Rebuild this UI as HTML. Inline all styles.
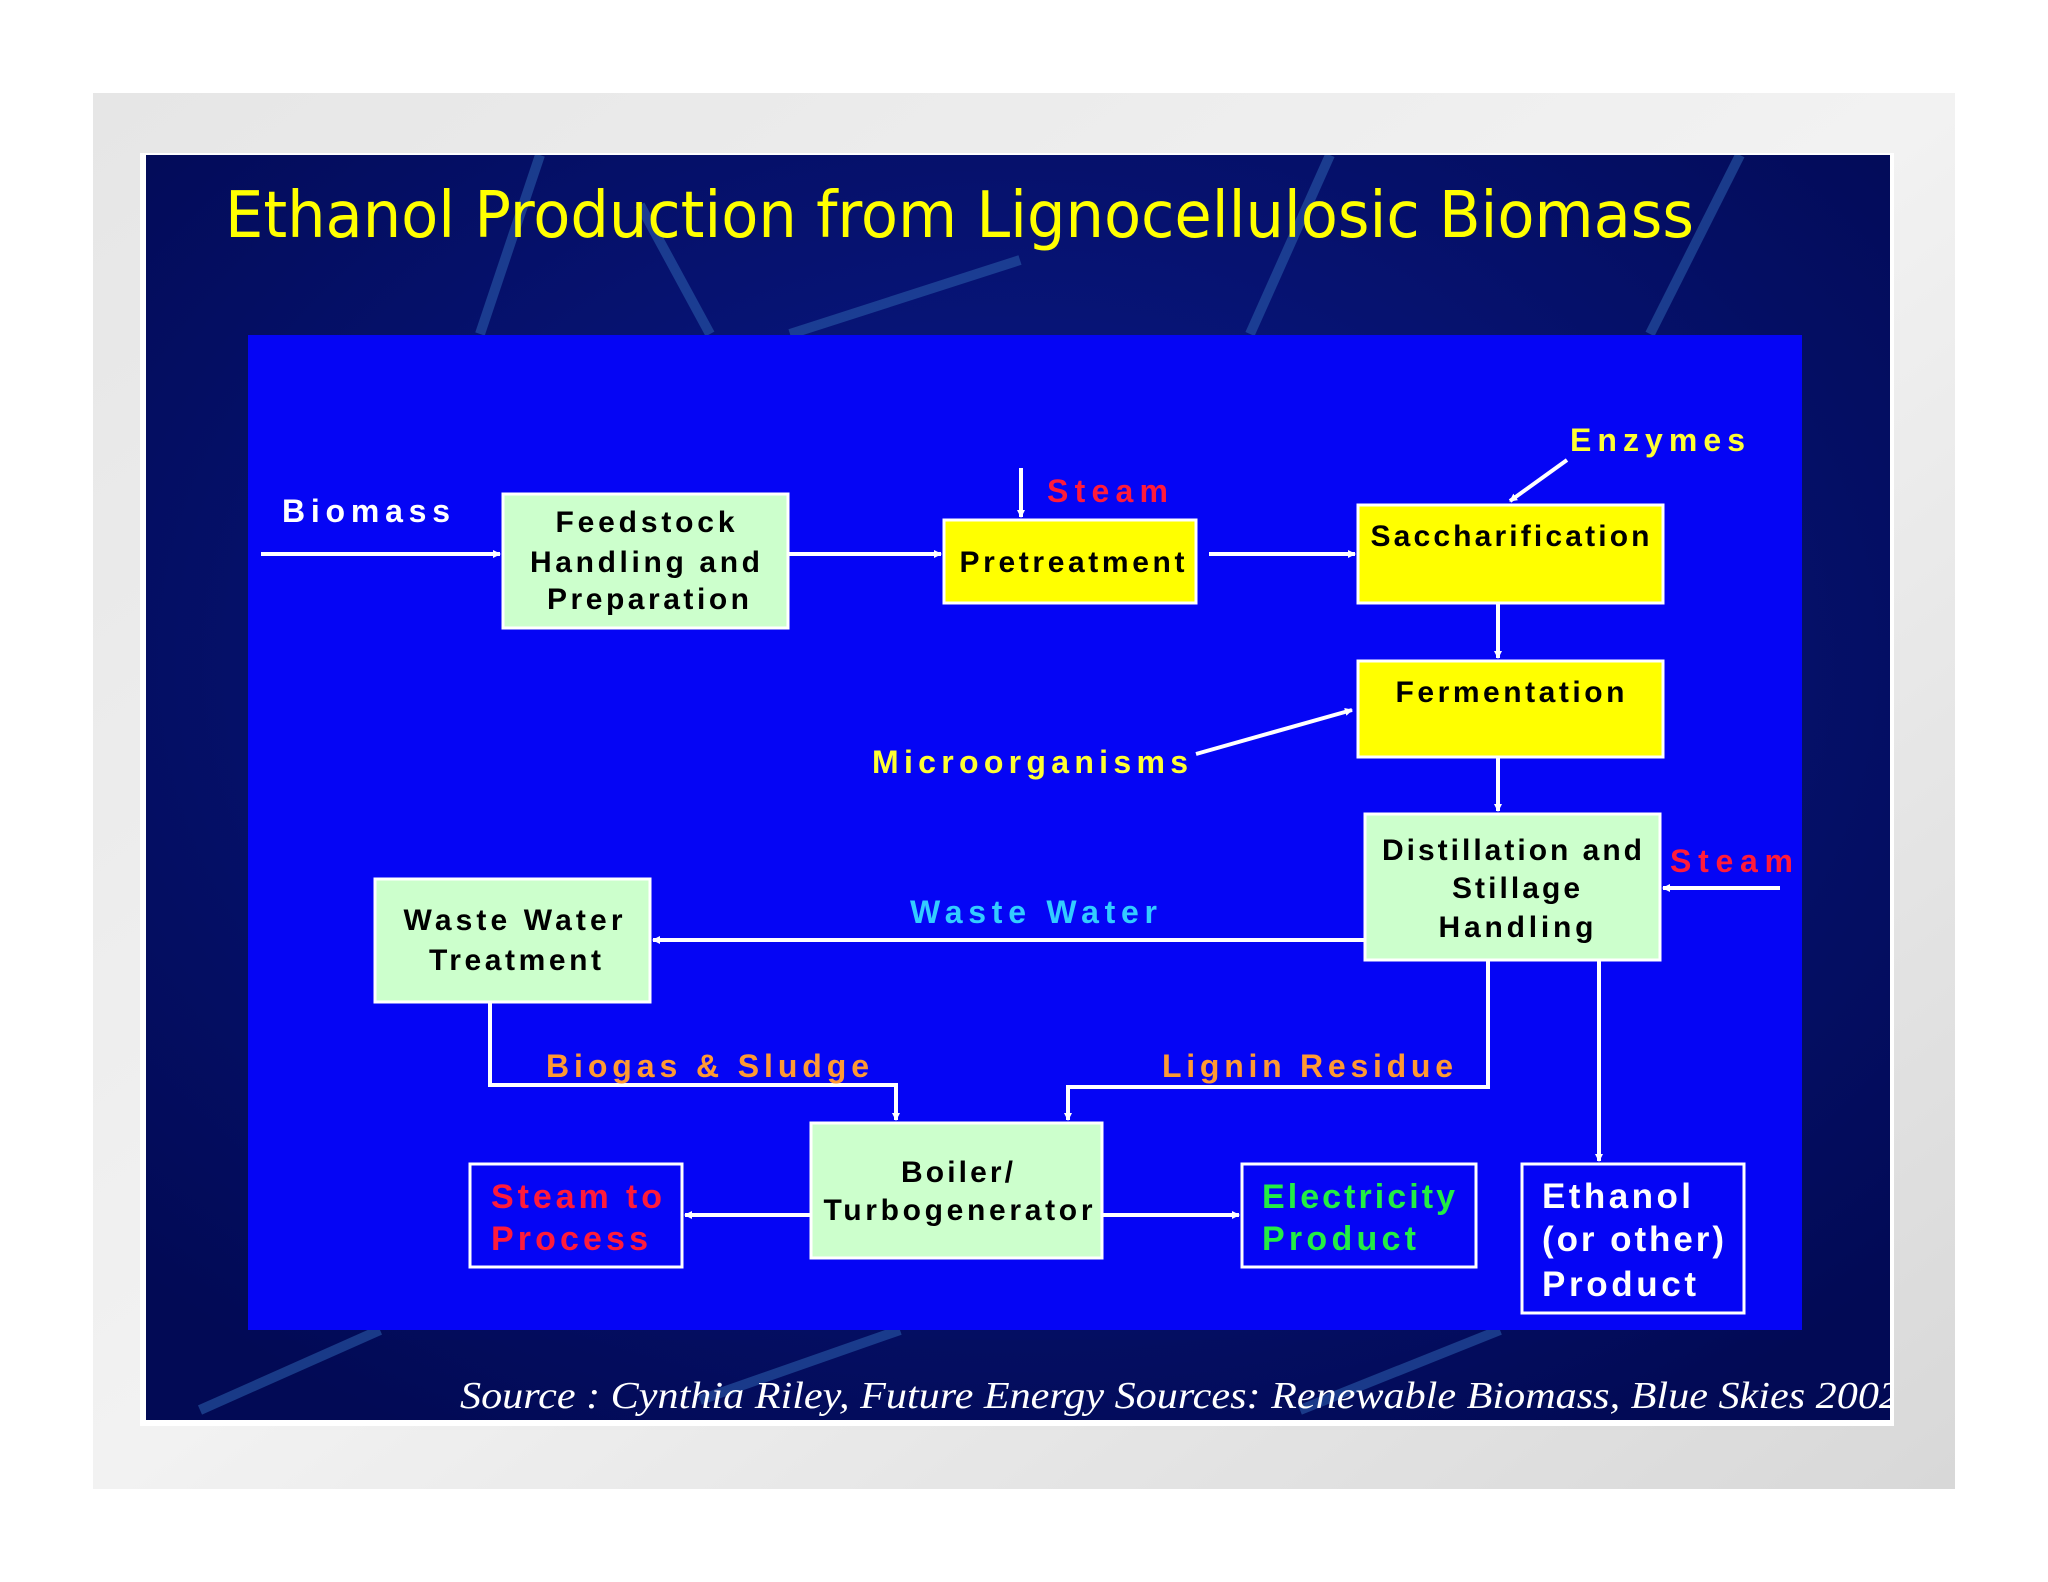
<!DOCTYPE html>
<html><head><meta charset="utf-8"><style>
html,body{margin:0;padding:0;background:#fff;}
svg{display:block;}
</style></head><body>
<svg width="2048" height="1582" viewBox="0 0 2048 1582" xmlns="http://www.w3.org/2000/svg">
<defs>
<linearGradient id="fr" x1="0" y1="0" x2="1" y2="1">
<stop offset="0" stop-color="#e6e6e6"/><stop offset="0.5" stop-color="#f2f2f2"/><stop offset="1" stop-color="#d8d8d8"/>
</linearGradient>
<radialGradient id="nv" cx="0.5" cy="0.4" r="0.7">
<stop offset="0" stop-color="#0a1a8a"/><stop offset="1" stop-color="#020a55"/>
</radialGradient>
<clipPath id="sl"><rect x="146" y="155" width="1744" height="1265"/></clipPath>
<marker id="a" markerWidth="8" markerHeight="8" refX="7" refY="4" orient="auto" markerUnits="userSpaceOnUse"><path d="M0,0 L8,4 L0,8 z" fill="#fff"/></marker>
</defs>
<rect x="93" y="93" width="1862" height="1396" fill="url(#fr)"/>
<rect x="140" y="153" width="1754" height="1273" fill="#fff"/>
<rect x="146" y="155" width="1744" height="1265" fill="url(#nv)"/>
<g stroke="#2a5aa8" stroke-width="10" opacity="0.6" fill="none" clip-path="url(#sl)">
<line x1="480" y1="334" x2="540" y2="155"/>
<line x1="640" y1="205" x2="710" y2="334"/>
<line x1="790" y1="334" x2="1020" y2="260"/>
<line x1="1250" y1="334" x2="1330" y2="155"/>
<line x1="1650" y1="334" x2="1740" y2="155"/>
<line x1="200" y1="1410" x2="380" y2="1330"/>
<line x1="700" y1="1400" x2="900" y2="1330"/>
<line x1="1300" y1="1410" x2="1500" y2="1330"/>
</g>
<text x="225" y="237" fill="#ffff00" font-family="DejaVu Sans Condensed, DejaVu Sans, sans-serif" font-size="64" textLength="1469" lengthAdjust="spacingAndGlyphs">Ethanol Production from Lignocellulosic Biomass</text>
<rect x="248" y="335" width="1554" height="995" fill="#0505f5"/>
<g stroke="#fff" stroke-width="4" fill="none">
<line x1="261" y1="554" x2="500" y2="554" marker-end="url(#a)"/>
<line x1="788" y1="554" x2="941" y2="554" marker-end="url(#a)"/>
<line x1="1021" y1="468" x2="1021" y2="517" marker-end="url(#a)"/>
<line x1="1209" y1="554" x2="1355" y2="554" marker-end="url(#a)"/>
<line x1="1567" y1="460" x2="1510" y2="501" marker-end="url(#a)"/>
<line x1="1498" y1="603" x2="1498" y2="658" marker-end="url(#a)"/>
<line x1="1196" y1="754" x2="1352" y2="710" marker-end="url(#a)"/>
<line x1="1498" y1="757" x2="1498" y2="811" marker-end="url(#a)"/>
<line x1="1780" y1="888" x2="1663" y2="888" marker-end="url(#a)"/>
<line x1="1365" y1="940" x2="653" y2="940" marker-end="url(#a)"/>
<polyline points="490,1002 490,1085 896,1085 896,1120" marker-end="url(#a)"/>
<polyline points="1488,960 1488,1087 1068,1087 1068,1120" marker-end="url(#a)"/>
<line x1="1599" y1="960" x2="1599" y2="1161" marker-end="url(#a)"/>
<line x1="811" y1="1215" x2="685" y2="1215" marker-end="url(#a)"/>
<line x1="1102" y1="1215" x2="1239" y2="1215" marker-end="url(#a)"/>
</g>
<g stroke="#fff" stroke-width="3">
<rect x="503" y="494" width="285" height="134" fill="#ccffcc"/>
<rect x="944" y="520" width="252" height="83" fill="#ffff00"/>
<rect x="1358" y="505" width="305" height="98" fill="#ffff00"/>
<rect x="1358" y="661" width="305" height="96" fill="#ffff00"/>
<rect x="1365" y="814" width="295" height="146" fill="#ccffcc"/>
<rect x="375" y="879" width="275" height="123" fill="#ccffcc"/>
<rect x="811" y="1123" width="291" height="135" fill="#ccffcc"/>
<rect x="470" y="1164" width="212" height="103" fill="#0505f5"/>
<rect x="1242" y="1164" width="234" height="103" fill="#0505f5"/>
<rect x="1522" y="1164" width="222" height="149" fill="#0505f5"/>
</g>
<g font-family="Liberation Sans, sans-serif" font-weight="bold" font-size="30" text-anchor="middle" fill="#000" lengthAdjust="spacingAndGlyphs">
<text x="645" y="532" textLength="179">Feedstock</text>
<text x="645" y="572" textLength="230">Handling and</text>
<text x="648" y="609" textLength="202">Preparation</text>
<text x="1072" y="572" textLength="225">Pretreatment</text>
<text x="1510" y="546" textLength="279">Saccharification</text>
<text x="1510" y="702" textLength="229">Fermentation</text>
<text x="1512" y="860" textLength="260">Distillation and</text>
<text x="1516" y="898" textLength="128">Stillage</text>
<text x="1516" y="937" textLength="155">Handling</text>
<text x="513" y="930" textLength="219">Waste Water</text>
<text x="515" y="970" textLength="172">Treatment</text>
<text x="957" y="1182" textLength="112">Boiler/</text>
<text x="958" y="1220" textLength="269">Turbogenerator</text>
</g>
<g font-family="Liberation Sans, sans-serif" font-weight="bold" font-size="32" lengthAdjust="spacingAndGlyphs">
<text x="282" y="522" fill="#fff" textLength="168">Biomass</text>
<text x="1047" y="502" fill="#ff1a3a" textLength="121">Steam</text>
<text x="1570" y="451" fill="#ffff33" textLength="175">Enzymes</text>
<text x="872" y="773" fill="#ffff33" textLength="316">Microorganisms</text>
<text x="1670" y="872" fill="#ff1a3a" textLength="123">Steam</text>
<text x="910" y="923" fill="#33ccff" textLength="247">Waste Water</text>
<text x="546" y="1077" fill="#ff9933" textLength="323">Biogas &amp; Sludge</text>
<text x="1162" y="1077" fill="#ff9933" textLength="291">Lignin Residue</text>
<text x="491" y="1208" fill="#ff1a3a" font-size="34" textLength="171">Steam to</text>
<text x="491" y="1250" fill="#ff1a3a" font-size="34" textLength="157">Process</text>
<text x="1262" y="1208" fill="#22ee44" font-size="34" textLength="193">Electricity</text>
<text x="1262" y="1250" fill="#22ee44" font-size="34" textLength="154">Product</text>
<text x="1542" y="1208" fill="#fff" font-size="35" textLength="149">Ethanol</text>
<text x="1542" y="1251" fill="#fff" font-size="35" textLength="182">(or other)</text>
<text x="1542" y="1296" fill="#fff" font-size="35" textLength="154">Product</text>
</g>
<g clip-path="url(#sl)">
<text x="460" y="1408" fill="#fff" font-family="Liberation Serif, serif" font-style="italic" font-size="38" textLength="1440" lengthAdjust="spacingAndGlyphs">Source : Cynthia Riley, Future Energy Sources: Renewable Biomass, Blue Skies 2002</text>
</g>
</svg>
</body></html>
